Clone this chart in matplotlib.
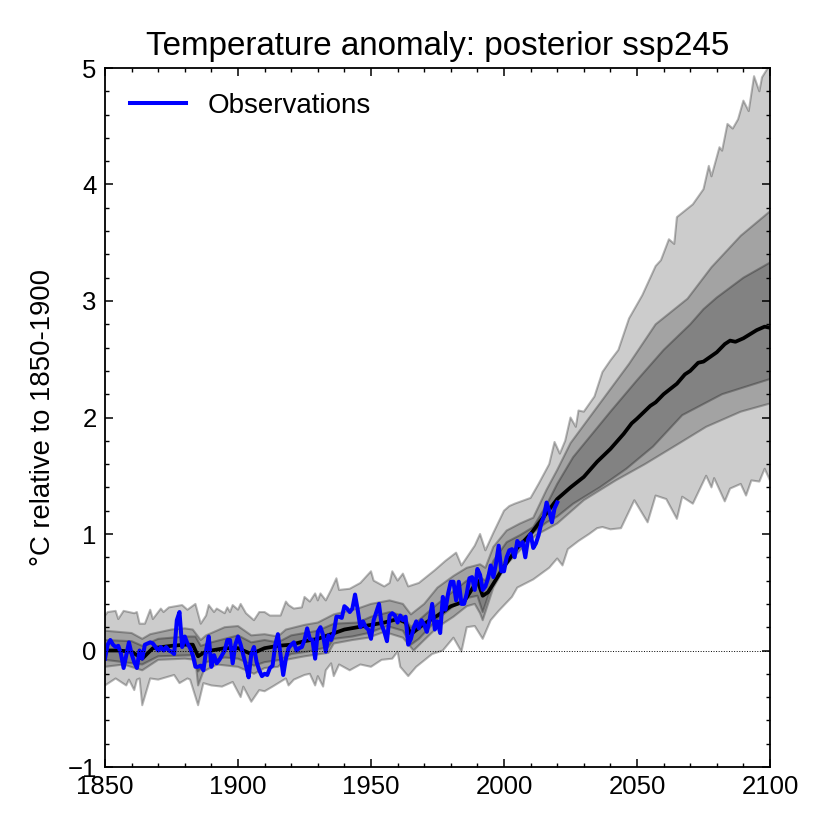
import numpy as np
import matplotlib
matplotlib.use('Agg')
import matplotlib.pyplot as plt
from matplotlib.ticker import MultipleLocator

plt.rcParams['font.family'] = ['Liberation Sans', 'DejaVu Sans']

# observations, one value per year from 1850
obs = [
    -.07, .05, .09, .05, .03, .04, -.03, -.15, -.04, .07,
    -.03, -.10, -.15, 0, -.07, .05, .06, .07, .06, .03,
    0, .03, 0, .03, 0, -.01, -.03, .26, .33, .03,
    .12, .06, .02, -.04, -.14, -.14, -.13, -.17, 0, .12,
    -.14, -.04, -.11, -.08, -.04, 0, .09, .09, -.11, .05,
    .12, .05, -.04, -.13, -.23, -.03, .03, -.10, -.17, -.22,
    -.20, -.21, -.15, -.13, .05, .14, -.04, -.21, -.07, .02,
    .05, .07, 0, .02, .03, .09, .19, .10, .09, -.07,
    .16, .20, .13, -.01, .13, .09, .15, .29, .29, .28,
    .38, .36, .33, .36, .48, .35, .20, .25, .20, .18,
    .10, .26, .33, .40, .22, .16, .08, .30, .32, .30,
    .24, .30, .26, .29, .05, .10, .19, .25, .19, .26,
    .22, .16, .26, .40, .18, .25, .15, .46, .35, .49,
    .59, .59, .43, .59, .40, .40, .49, .62, .63, .52,
    .70, .65, .52, .55, .62, .73, .63, .75, .90, .68,
    .68, .80, .86, .87, .80, .94, .90, .93, .80, .95,
    1.0, .88, .92, .99, 1.09, 1.15, 1.27, 1.2, 1.10, 1.22, 1.27,
]
obs_years = np.arange(1850, 1850 + len(obs))

median_years = [1850, 1855, 1860, 1864, 1868, 1875, 1880, 1883, 1885, 1887, 1890, 1895, 1900,
                1905, 1910, 1915, 1920, 1925, 1930, 1935, 1940, 1945, 1950, 1955, 1960, 1963,
                1965, 1970, 1975, 1980, 1985, 1990, 1992, 1994, 2000, 2005, 2010, 2015, 2020,
                2025, 2030, 2035, 2040, 2045, 2048, 2050, 2055, 2057, 2060, 2065, 2068, 2070,
                2073, 2075, 2080, 2083, 2085, 2087, 2090, 2095, 2098, 2100]
median = [0, 0, -.01, -.07, .02, .04, .05, .05, -.05, -.02, 0, .02, .02, -.03, .02, .04, .05, .08,
          .1, .14, .18, .2, .22, .24, .27, .24, .14, .23, .30, .38, .42, .60, .47, .50, .72, .88,
          1.0, 1.15, 1.30, 1.40, 1.49, 1.62, 1.73, 1.86, 1.95, 1.99, 2.10, 2.13, 2.20, 2.29, 2.37,
          2.40, 2.47, 2.48, 2.56, 2.63, 2.66, 2.65, 2.68, 2.75, 2.78, 2.77]

# 5-95 range of the ensemble, outer band
hi_outer_years = [1850, 1851, 1854, 1855, 1857, 1859, 1861, 1862, 1863, 1865, 1867, 1868, 1871,
                  1872, 1874, 1879, 1881, 1884, 1886, 1888, 1889, 1891, 1892, 1895, 1896, 1897,
                  1898, 1900, 1901, 1903, 1906, 1908, 1910, 1912, 1916, 1918, 1919, 1921, 1924,
                  1925, 1927, 1929, 1930, 1931, 1933, 1935, 1937, 1938, 1942, 1946, 1950, 1951,
                  1955, 1957, 1958, 1960, 1962, 1964, 1968, 1974, 1978, 1982, 1984, 1989, 1991,
                  1993, 1996, 2000, 2002, 2004, 2010, 2013, 2017, 2019, 2021, 2023, 2025, 2027,
                  2028, 2030, 2034, 2037, 2040, 2043, 2047, 2052, 2055, 2057, 2059, 2062, 2064,
                  2065, 2071, 2075, 2077, 2078, 2081, 2082, 2084, 2086, 2088, 2090, 2092, 2094,
                  2096, 2097, 2100]
hi_outer = [.30, .33, .34, .27, .34, .33, .32, .33, .23, .23, .35, .27, .36, .33, .37, .39, .35,
            .40, .23, .30, .39, .33, .36, .32, .37, .33, .39, .35, .40, .32, .26, .33, .33, .30,
            .30, .42, .39, .36, .37, .46, .42, .49, .43, .49, .43, .52, .62, .52, .53, .58, .68,
            .60, .55, .58, .68, .60, .66, .55, .58, .69, .77, .84, .73, .90, 1.0, .86, 1.01, 1.2,
            1.24, 1.26, 1.31, 1.43, 1.6, 1.79, 1.69, 1.80, 2.0, 1.92, 2.06, 2.05, 2.18, 2.39, 2.49,
            2.58, 2.85, 3.05, 3.20, 3.30, 3.35, 3.53, 3.49, 3.72, 3.83, 3.96, 4.16, 4.07, 4.32,
            4.29, 4.52, 4.48, 4.56, 4.72, 4.63, 4.93, 4.80, 4.92, 5.03]

lo_outer_years = [1850, 1854, 1858, 1859, 1861, 1862, 1863, 1864, 1867, 1870, 1876, 1878, 1881,
                  1882, 1885, 1887, 1890, 1894, 1898, 1901, 1902, 1905, 1908, 1910, 1913, 1918,
                  1919, 1921, 1925, 1927, 1929, 1930, 1932, 1933, 1935, 1936, 1938, 1942, 1946,
                  1950, 1954, 1958, 1960, 1961, 1964, 1967, 1973, 1977, 1981, 1984, 1986, 1989,
                  1992, 1995, 1998, 2003, 2005, 2011, 2017, 2020, 2022, 2024, 2028, 2032, 2035,
                  2037, 2040, 2044, 2049, 2054, 2057, 2061, 2065, 2067, 2071, 2076, 2078, 2079,
                  2083, 2085, 2089, 2091, 2093, 2096, 2098, 2100]
lo_outer = [-.30, -.24, -.30, -.25, -.34, -.25, -.24, -.47, -.24, -.25, -.21, -.28, -.24, -.25,
            -.47, -.28, -.30, -.31, -.27, -.40, -.31, -.44, -.34, -.35, -.31, -.24, -.30, -.25,
            -.21, -.20, -.30, -.22, -.31, -.17, -.11, -.22, -.12, -.17, -.12, -.14, -.08, -.07,
            -.01, -.14, -.22, -.14, -.03, 0, .11, -.01, .2, .21, .10, .26, .34, .46, .54, .61,
            .71, .79, .73, .87, .94, 1.0, 1.05, 1.06, 1.04, 1.05, 1.29, 1.10, 1.33, 1.30, 1.13,
            1.32, 1.26, 1.50, 1.40, 1.48, 1.28, 1.39, 1.43, 1.33, 1.46, 1.45, 1.56, 1.46]

hi_mid_years = [1850, 1855, 1860, 1864, 1867, 1875, 1880, 1883, 1886, 1888, 1895, 1900, 1905, 1910,
                1915, 1918, 1925, 1930, 1936, 1945, 1950, 1957, 1962, 1965, 1970, 1975, 1981, 1986,
                1991, 1993, 1996, 2001, 2006, 2011, 2016, 2020, 2025, 2036, 2047, 2057, 2069, 2078,
                2089, 2100]
hi_mid = [.17, .16, .15, .10, .14, .18, .19, .18, .09, .13, .20, .21, .13, .14, .12, .18, .22, .24,
          .31, .36, .40, .43, .40, .31, .40, .54, .64, .71, .74, .71, .89, 1.03, 1.09, 1.14, 1.38,
          1.55, 1.78, 2.12, 2.46, 2.80, 3.02, 3.29, 3.56, 3.77]

lo_mid_years = [1850, 1857, 1864, 1870, 1880, 1884, 1885, 1887, 1892, 1900, 1906, 1910, 1915, 1918,
                1925, 1934, 1936, 1943, 1949, 1955, 1962, 1966, 1970, 1975, 1981, 1986, 1989, 1991,
                1992, 1994, 1996, 2001, 2006, 2012, 2020, 2030, 2042, 2053, 2066, 2076, 2089, 2100]
lo_mid = [-.14, -.12, -.17, -.08, -.07, -.08, -.30, -.18, -.12, -.14, -.20, -.15, -.14, -.08, -.05,
          -.02, .06, .09, .11, .16, .11, 0, .09, .20, .29, .38, .40, .32, .26, .40, .54, .74, .86,
          .99, 1.09, 1.29, 1.46, 1.60, 1.78, 1.92, 2.05, 2.12]

hi_in_years = [1850, 1860, 1864, 1870, 1880, 1884, 1886, 1890, 1900, 1905, 1910, 1915, 1920, 1930,
               1936, 1945, 1950, 1957, 1962, 1965, 1970, 1975, 1981, 1986, 1991, 1993, 1996, 2001,
               2006, 2011, 2016, 2020, 2026, 2040, 2050, 2060, 2070, 2075, 2080, 2090, 2100]
hi_in = [.09, .08, .04, .10, .12, .12, .04, .07, .13, .07, .09, .07, .13, .17, .23, .24, .29, .33,
         .30, .20, .30, .40, .51, .60, .63, .60, .77, .93, .99, 1.06, 1.25, 1.43, 1.66, 2.05, 2.32,
         2.58, 2.80, 2.93, 3.03, 3.20, 3.33]

lo_in_years = [1850, 1864, 1870, 1883, 1885, 1888, 1895, 1900, 1906, 1910, 1916, 1920, 1926, 1934,
               1936, 1943, 1949, 1956, 1962, 1965, 1968, 1975, 1981, 1986, 1990, 1992, 1995, 2001,
               2006, 2012, 2016, 2020, 2026, 2036, 2046, 2056, 2067, 2082, 2100]
lo_in = [-.08, -.12, -.05, -.04, -.18, -.10, -.06, -.07, -.13, -.10, -.08, -.03, -.01, .03, .10,
         .12, .15, .21, .17, .05, .10, .27, .38, .45, .47, .33, .53, .80, .92, 1.03, 1.10, 1.15,
         1.26, 1.40, 1.56, 1.75, 2.02, 2.20, 2.33]

bands = [(hi_outer_years, hi_outer, lo_outer_years, lo_outer),
         (hi_mid_years, hi_mid, lo_mid_years, lo_mid),
         (hi_in_years, hi_in, lo_in_years, lo_in)]

fig = plt.figure(figsize=(8.3, 8.3), dpi=100)
ax = fig.add_axes([105 / 830, 63 / 830, 665 / 830, 699 / 830])

for xh, yh, xl, yl in bands:
    ax.fill(list(xh) + list(xl)[::-1], list(yh) + list(yl)[::-1], color='k', alpha=0.2, lw=0)
    ax.plot(xh, yh, color='k', alpha=0.28, lw=1.5)
    ax.plot(xl, yl, color='k', alpha=0.28, lw=1.5)

ax.plot(median_years, median, color='k', lw=2.7)
ax.plot(obs_years, obs, color='#0000ff', lw=2.9, label='Observations')
ax.axhline(0, color='k', ls=':', lw=0.7)

ax.set_xlim(1850, 2100)
ax.set_ylim(-1, 5)
ax.set_yticks(range(-1, 6))
ax.set_xticks(range(1850, 2101, 50))
ax.xaxis.set_minor_locator(MultipleLocator(10))
ax.yaxis.set_minor_locator(MultipleLocator(0.2))
ax.tick_params(which='major', direction='in', top=True, right=True, length=6, width=1.1,
               labelsize=18.5, pad=6)
ax.tick_params(which='minor', direction='in', top=True, right=True, length=3, width=1)
for s in ax.spines.values():
    s.set_linewidth(1.3)

ax.set_ylabel('°C relative to 1850-1900', fontsize=19.8, labelpad=8)
ax.set_title('Temperature anomaly: posterior ssp245', fontsize=23.9, pad=9)
ax.legend(loc='upper left', frameon=False, fontsize=20, borderaxespad=0.5, handlelength=2.0,
          handletextpad=0.8)

fig.savefig('out.png', dpi=100)
